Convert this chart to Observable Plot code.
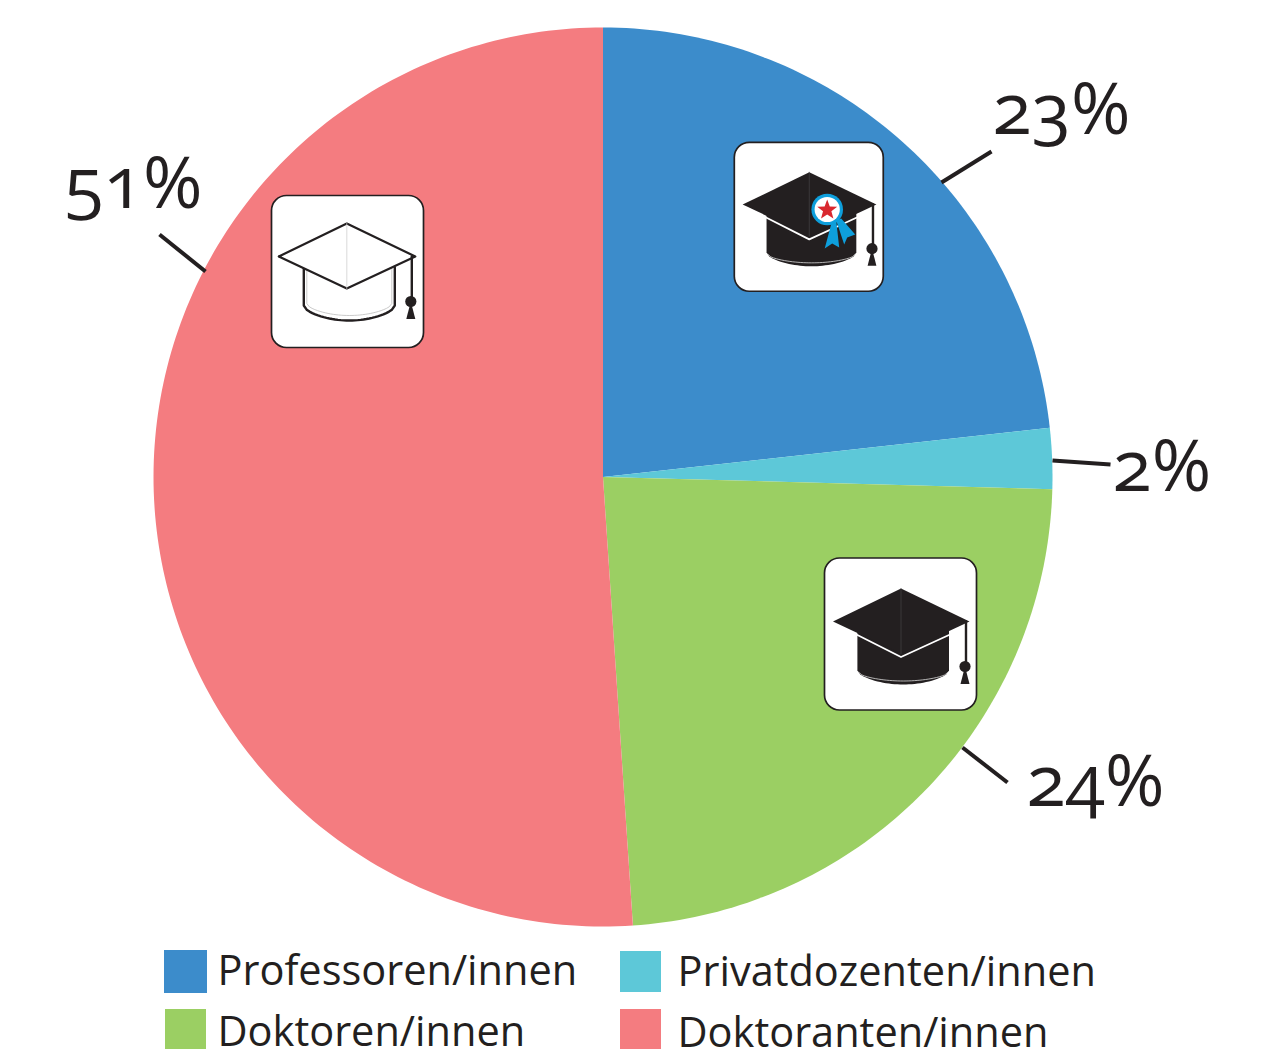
<!DOCTYPE html>
<html lang="de">
<head>
<meta charset="utf-8">
<script src="https://cdn.jsdelivr.net/npm/d3@7"></script>
<script src="https://cdn.jsdelivr.net/npm/@observablehq/plot@0.6"></script>
<style>
html,body{margin:0;padding:0;background:#fff}
svg{display:block;font-variant-numeric:oldstyle-nums}
</style>
</head>
<body>
<div id="chart"></div>
<script>
// ---- data
const categories = ["Professoren/innen", "Privatdozenten/innen", "Doktoren/innen", "Doktoranten/innen"];
const shares = [23.25, 2.18, 23.51, 51.06];
const percentLabels = ["23%", "2%", "24%", "51%"];
const colors = ["#3c8ccb", "#5dc8d8", "#9bcf63", "#f47c80"];

// ---- layout
const W = 1281, H = 1064, CX = 602.5, CY = 476.5, R = 449.5;
const INK = "#231f20", FONT = "'Open Sans', sans-serif";
const leaderEnds = [[941,182,991,151],[1052,460,1110,464],[962,747,1007,782],[205,271,159,234]];
const labelAt = [[992,133],[1112,490],[1026,805],[64,207]];
const legendSwatch = [[164,950,207,993],[620,951,661,992],[165,1009,206,1049],[620,1009,661,1049]];
const legendText = [[217,984],[677,985],[217,1045],[677,1046]];

// ---- slices, sampled along the circle from the shares
const total = d3.sum(shares);
let acc = 0;
const slicePts = [];
categories.forEach((c, i) => {
  const a0 = acc / total * 2 * Math.PI;
  acc += shares[i];
  const a1 = acc / total * 2 * Math.PI;
  const n = Math.max(4, Math.ceil((a1 - a0) * 180 / Math.PI));
  slicePts.push({c, x: CX, y: CY});
  for (let k = 0; k <= n; k++) {
    const a = a0 + (a1 - a0) * k / n;
    slicePts.push({c, x: CX + R * Math.sin(a), y: CY - R * Math.cos(a)});
  }
  slicePts.push({c, x: CX, y: CY});
});

// ---- icon helpers (shapes in local units of the icon box)
const xy = (pts, ox, oy, s) => pts.map(([x, y]) => ({x: ox + x * s, y: oy + y * s}));
const shape = (pts, opts) => Plot.line(pts, {x: "x", y: "y", ...opts});
function crownPts(x0, x1, ySide, yBot, yTop) {
  const p = [[x0, yTop]];
  for (let k = 0; k <= 32; k++) {
    const t = k / 32;
    p.push([x0 + (x1 - x0) * t, ySide + (yBot - ySide) * Math.sin(Math.PI * t) ** 0.55]);
  }
  p.push([x1, yTop]);
  return p;
}
function icon(o) {
  const {x: ox, y: oy, s, dark, dx = 0, dy = 0} = o;
  const m = [];
  m.push(Plot.rect([0], {x1: ox, x2: ox + 152 * s, y1: oy, y2: oy + 152 * s, rx: 15, fill: "#fff", stroke: INK, strokeWidth: 1.7}));
  const P = pts => xy(pts, ox + dx, oy + dy, s);
  const cap = [[8,63],[76,30],[144.5,63],[76,95],[8,63]];
  if (dark) {
    m.push(shape(P(crownPts(32.4,124,112,126,60)), {fill: INK, stroke: "none"}));
    m.push(shape(P(crownPts(34,122.6,114,122.5,114).slice(1,-1)), {stroke: "#d9d9d9", strokeWidth: 0.8}));
    m.push(shape(P([[32.4,76.5],[76,98.5],[124,76.5]]), {stroke: "#fff", strokeWidth: 1.8}));
    m.push(shape(P(cap), {fill: INK, stroke: "none"}));
    m.push(shape(P([[76,30],[76,95]]), {stroke: "#4a4a4c", strokeWidth: 0.6}));
  } else {
    m.push(shape(P(crownPts(33,124,112,127,74)), {stroke: INK, strokeWidth: 2.4}));
    m.push(shape(P(crownPts(36,121,110,122,74)), {stroke: "#bdbdbd", strokeWidth: 0.8}));
    m.push(shape(P(cap), {fill: "#fff", stroke: INK, strokeWidth: 2.2}));
    m.push(shape(P([[76,30],[76,95]]), {stroke: "#cfcfcf", strokeWidth: 0.8}));
  }
  m.push(shape(P([[141,63],[141,104]]), {stroke: INK, strokeWidth: 2.4}));
  m.push(Plot.dot([0], {x: ox + dx + 140 * s, y: oy + dy + 108 * s, r: 5.6, fill: INK}));
  m.push(shape(P([[140,108],[135.5,125.5],[144.5,125.5],[140,108]]), {fill: INK, stroke: "none"}));
  return m;
}
function medal(cx, cy) {
  const star = [];
  for (let k = 0; k <= 10; k++) {
    const r = k % 2 ? 4.4 : 10.5, a = k * Math.PI / 5;
    star.push({x: cx + r * Math.sin(a), y: cy + 0.5 - r * Math.cos(a)});
  }
  const rib = "#0e9fdc";
  const off = pts => pts.map(([x, y]) => ({x: cx + x, y: cy + y}));
  return [
    shape(off([[5,11],[9,11],[12,38],[5,34],[-2.5,39],[5,11]]), {fill: rib, stroke: "none"}),
    shape(off([[9,11],[14,9],[28,25],[20,28],[17,35],[9,11]]), {fill: rib, stroke: "none"}),
    Plot.dot([0], {x: cx, y: cy, r: 15.8, fill: rib}),
    Plot.dot([0], {x: cx, y: cy, r: 12.6, fill: "#fff"}),
    shape(star, {fill: "#d9282f", stroke: "none"})
  ];
}

// ---- chart
const chart = Plot.plot({
  width: W, height: H,
  margin: 0,
  x: {domain: [0, W], range: [0, W], axis: null},
  y: {domain: [0, H], range: [0, H], axis: null},
  color: {domain: categories, range: colors},
  marks: [
    Plot.line(slicePts, {x: "x", y: "y", z: "c", fill: "c", stroke: "none"}),
    Plot.link(leaderEnds, {x1: d => d[0], y1: d => d[1], x2: d => d[2], y2: d => d[3], stroke: INK, strokeWidth: 4, strokeLinecap: "butt"}),
    Plot.text(percentLabels, {x: (d, i) => labelAt[i][0], y: (d, i) => labelAt[i][1], text: d => d, textAnchor: "start", lineAnchor: "bottom", fontSize: 72, fontWeight: 400, fontFamily: FONT, fill: INK}),
    ...icon({x: 734.3, y: 142.3, s: 0.98, dark: true}),
    ...medal(826.7, 209),
    ...icon({x: 824.5, y: 558, s: 1, dark: true}),
    ...icon({x: 271.5, y: 195.5, s: 1, dark: false, dx: -1.2, dy: -2.5}),
    Plot.rect(categories, {x1: (d, i) => legendSwatch[i][0], y1: (d, i) => legendSwatch[i][1], x2: (d, i) => legendSwatch[i][2], y2: (d, i) => legendSwatch[i][3], fill: d => d}),
    Plot.text(categories, {x: (d, i) => legendText[i][0], y: (d, i) => legendText[i][1], text: d => d, textAnchor: "start", lineAnchor: "bottom", fontSize: 41.5, fontWeight: 400, fontFamily: FONT, fill: INK})
  ]
});
document.getElementById("chart").append(chart);
</script>
</body>
</html>
